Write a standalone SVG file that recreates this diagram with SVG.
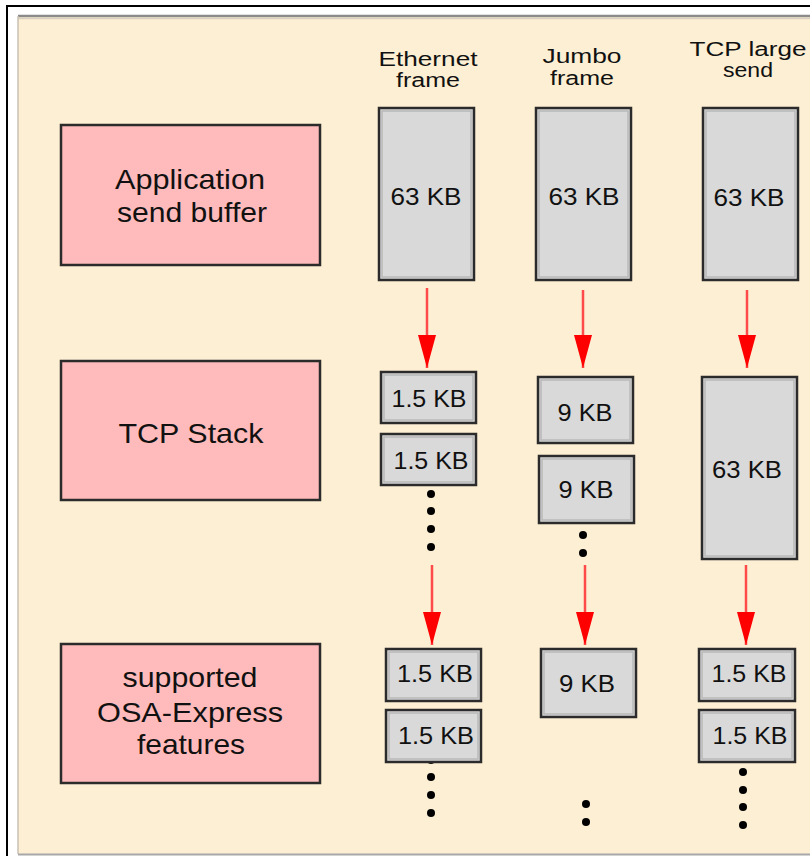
<svg xmlns="http://www.w3.org/2000/svg" width="810" height="856" viewBox="0 0 810 856">
<defs>
<style>
.frame{fill:#ffffff;stroke:#000;stroke-width:2}
.panel{fill:#fdefd3}
.layer{fill:#ffbbbb;stroke:#2b2b2b;stroke-width:2.5}
.blk{fill:#d9d9d9;stroke:#2b2b2b;stroke-width:2.5}
.inner{fill:none;stroke:#b8b8b8;stroke-width:1.5}
text{font-family:"Liberation Sans",Arial,sans-serif;fill:#111;text-anchor:middle}
.hd{font-size:20px}
.lb{font-size:28px}
.bx{font-size:24px}
.arrow{stroke:#ff4a4a;stroke-width:2.5;fill:none;marker-end:url(#ah)}
.dot{fill:#000}
</style>
<marker id="ah" markerUnits="userSpaceOnUse" markerWidth="34" markerHeight="20" refX="33" refY="9" orient="auto" viewBox="0 0 34 18">
<polygon points="0,0 33,9 0,18" fill="#ff0000"/>
</marker>
</defs>
<rect class="frame" x="7" y="6" width="820" height="870"/>
<rect class="panel" x="18" y="15" width="800" height="839"/>
<line x1="18" y1="16" x2="810" y2="16" stroke="#8a8a8a" stroke-width="2.5"/>
<line x1="18" y1="18.5" x2="810" y2="18.5" stroke="#d8cfc0" stroke-width="1.5"/>
<line x1="18" y1="16" x2="18" y2="854" stroke="#c8c0b4" stroke-width="1.5"/>
<line x1="18" y1="854.5" x2="810" y2="854.5" stroke="#a8a8a8" stroke-width="2"/>

<g id="headers">
<text class="hd" x="428" y="66" textLength="99" lengthAdjust="spacingAndGlyphs">Ethernet</text>
<text class="hd" x="428" y="87" textLength="64" lengthAdjust="spacingAndGlyphs">frame</text>
<text class="hd" x="582" y="63" textLength="79" lengthAdjust="spacingAndGlyphs">Jumbo</text>
<text class="hd" x="582" y="85" textLength="64" lengthAdjust="spacingAndGlyphs">frame</text>
<text class="hd" x="748" y="56" textLength="117" lengthAdjust="spacingAndGlyphs">TCP large</text>
<text class="hd" x="748" y="77" textLength="50" lengthAdjust="spacingAndGlyphs">send</text>
</g>

<g id="app-buffer">
<rect class="layer" x="61" y="125" width="259" height="140"/>
<text class="lb" x="190" y="189" textLength="150" lengthAdjust="spacingAndGlyphs">Application</text>
<text class="lb" x="192" y="222" textLength="150" lengthAdjust="spacingAndGlyphs">send buffer</text>
</g>
<g id="tcp-stack">
<rect class="layer" x="61" y="361" width="259" height="139"/>
<text class="lb" x="191" y="443" textLength="145" lengthAdjust="spacingAndGlyphs">TCP Stack</text>
</g>
<g id="osa-express">
<rect class="layer" x="61" y="644" width="259" height="139"/>
<text class="lb" x="190" y="687" textLength="135" lengthAdjust="spacingAndGlyphs">supported</text>
<text class="lb" x="190" y="722" textLength="186" lengthAdjust="spacingAndGlyphs">OSA-Express</text>
<text class="lb" x="191" y="754" textLength="108" lengthAdjust="spacingAndGlyphs">features</text>
</g>

<g id="eth-app">
<rect class="blk" x="379" y="108" width="95" height="172"/>
<rect class="inner" x="382" y="111" width="89" height="166"/>
<text class="bx" x="426" y="205" textLength="71" lengthAdjust="spacingAndGlyphs">63 KB</text>
</g>
<g id="jumbo-app">
<rect class="blk" x="536" y="108" width="95" height="172"/>
<rect class="inner" x="539" y="111" width="89" height="166"/>
<text class="bx" x="584" y="205" textLength="71" lengthAdjust="spacingAndGlyphs">63 KB</text>
</g>
<g id="tso-app">
<rect class="blk" x="703" y="108" width="95" height="172"/>
<rect class="inner" x="706" y="111" width="89" height="166"/>
<text class="bx" x="749" y="206" textLength="71" lengthAdjust="spacingAndGlyphs">63 KB</text>
</g>

<g id="eth-tcp">
<rect class="blk" x="381" y="372" width="95" height="51"/>
<rect class="inner" x="384" y="375" width="89" height="45"/>
<text class="bx" x="429" y="407" textLength="75" lengthAdjust="spacingAndGlyphs">1.5 KB</text>
<rect class="blk" x="381" y="434" width="95" height="51"/>
<rect class="inner" x="384" y="437" width="89" height="45"/>
<text class="bx" x="431" y="469" textLength="75" lengthAdjust="spacingAndGlyphs">1.5 KB</text>
<circle class="dot" cx="431" cy="494" r="4"/>
<circle class="dot" cx="431" cy="511" r="4"/>
<circle class="dot" cx="431" cy="529" r="4"/>
<circle class="dot" cx="431" cy="547" r="4"/>
</g>
<g id="jumbo-tcp">
<rect class="blk" x="538" y="377" width="95" height="66"/>
<rect class="inner" x="541" y="380" width="89" height="60"/>
<text class="bx" x="585" y="421" textLength="55" lengthAdjust="spacingAndGlyphs">9 KB</text>
<rect class="blk" x="539" y="456" width="95" height="67"/>
<rect class="inner" x="542" y="459" width="89" height="61"/>
<text class="bx" x="586" y="498" textLength="55" lengthAdjust="spacingAndGlyphs">9 KB</text>
<circle class="dot" cx="583" cy="535" r="4"/>
<circle class="dot" cx="583" cy="553" r="4"/>
</g>
<g id="tso-tcp">
<rect class="blk" x="702" y="377" width="95" height="182"/>
<rect class="inner" x="705" y="380" width="89" height="176"/>
<text class="bx" x="747" y="478" textLength="70" lengthAdjust="spacingAndGlyphs">63 KB</text>
</g>

<g id="eth-osa">
<rect class="blk" x="386" y="649" width="95" height="52"/>
<rect class="inner" x="389" y="652" width="89" height="46"/>
<text class="bx" x="435" y="682" textLength="76" lengthAdjust="spacingAndGlyphs">1.5 KB</text>
<circle class="dot" cx="431" cy="760" r="4"/>
<circle class="dot" cx="431" cy="777" r="4"/>
<circle class="dot" cx="431" cy="795" r="4"/>
<circle class="dot" cx="431" cy="813" r="4"/>
<rect class="blk" x="386" y="710" width="95" height="52"/>
<rect class="inner" x="389" y="713" width="89" height="46"/>
<text class="bx" x="436" y="744" textLength="76" lengthAdjust="spacingAndGlyphs">1.5 KB</text>
</g>
<g id="jumbo-osa">
<rect class="blk" x="541" y="649" width="95" height="68"/>
<rect class="inner" x="544" y="652" width="89" height="62"/>
<text class="bx" x="587" y="692" textLength="56" lengthAdjust="spacingAndGlyphs">9 KB</text>
<circle class="dot" cx="586" cy="804" r="4"/>
<circle class="dot" cx="586" cy="822" r="4"/>
</g>
<g id="tso-osa">
<rect class="blk" x="699" y="649" width="96" height="52"/>
<rect class="inner" x="702" y="652" width="90" height="46"/>
<text class="bx" x="749" y="682" textLength="75" lengthAdjust="spacingAndGlyphs">1.5 KB</text>
<rect class="blk" x="699" y="710" width="96" height="52"/>
<rect class="inner" x="702" y="713" width="90" height="46"/>
<text class="bx" x="750" y="744" textLength="75" lengthAdjust="spacingAndGlyphs">1.5 KB</text>
<circle class="dot" cx="743" cy="772" r="4"/>
<circle class="dot" cx="743" cy="790" r="4"/>
<circle class="dot" cx="743" cy="807" r="4"/>
<circle class="dot" cx="743" cy="825" r="4"/>
</g>

<g id="connectors">
<line class="arrow" x1="427" y1="288" x2="427" y2="368"/>
<line class="arrow" x1="583" y1="290" x2="583" y2="368"/>
<line class="arrow" x1="747" y1="290" x2="747" y2="368"/>
<line class="arrow" x1="432" y1="565" x2="432" y2="645"/>
<line class="arrow" x1="585" y1="565" x2="585" y2="645"/>
<line class="arrow" x1="746" y1="565" x2="746" y2="645"/>
</g>
</svg>
